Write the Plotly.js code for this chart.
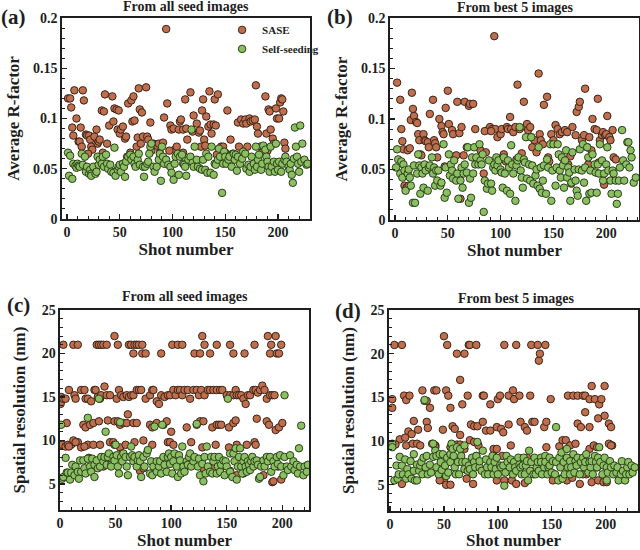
<!DOCTYPE html>
<html><head><meta charset="utf-8">
<script src="https://cdn.plot.ly/plotly-3.0.1.min.js"></script>
<style>html,body{margin:0;padding:0;background:#fff}#chart{width:640px;height:550px}</style>
</head><body><div id="chart"></div>
<script>
// ---- Panel (a): average R-factor, all seed images ----
const aSaseX = [1,3,4,7,5,6,9,11,12,13,15,16,14,18,19,21,22,23,24,26,28,29,30,31,33,35,36,38,40,43,44,45,47,48,49,50,51,53,55,56,57,58,61,63,62,64,66,67,68,69,71,70,72,75,76,77,79,82,85,87,91,92,94,95,98,99,101,102,104,106,107,108,110,112,113,117,114,119,120,123,125,126,127,128,129,130,131,132,134,135,136,137,139,140,141,143,146,147,148,152,155,158,162,163,165,167,169,170,171,173,174,176,178,179,180,181,183,188,189,191,192,193,195,196,198,199,201,202,203,204,205,206,207,20,34,60,80,88,97,110,142,150,157,160,185,190];
const aSaseY = [.120,.120,.111,.128,.091,.083,.100,.077,.077,.091,.128,.118,.072,.084,.083,.083,.079,.072,.069,.082,.089,.075,.077,.079,.108,.107,.124,.075,.093,.122,.097,.110,.109,.089,.108,.085,.089,.092,.080,.082,.062,.115,.118,.122,.097,.098,.072,.081,.130,.109,.106,.075,.082,.131,.082,.079,.096,.075,.073,.075,.076,.101,.189,.115,.093,.089,.090,.069,.072,.089,.097,.099,.089,.119,.090,.126,.079,.087,.103,.095,.086,.088,.072,.108,.119,.079,.073,.102,.092,.127,.094,.085,.094,.119,.093,.124,.072,.062,.072,.108,.079,.062,.096,.072,.099,.095,.099,.095,.072,.100,.097,.098,.099,.133,.092,.085,.072,.122,.085,.109,.107,.089,.080,.075,.110,.100,.100,.116,.120,.119,.107,.076,.070,.065,.066,.066,.068,.066,.068,.066,.064,.066,.065,.063,.066,.068];
const aSeedX = [1,3,2,5,6,8,9,10,11,12,14,15,17,18,19,21,22,23,23,25,27,28,29,30,31,33,34,35,37,38,39,41,42,44,45,46,48,49,50,51,53,54,55,56,58,60,61,63,64,65,67,68,69,72,73,74,76,77,78,79,80,82,83,85,87,88,90,91,92,89,94,96,98,99,101,102,103,105,106,107,109,110,111,112,113,115,117,118,119,120,121,123,124,126,128,129,131,132,133,134,136,137,139,140,141,143,144,145,147,148,149,150,151,153,154,156,158,159,160,161,162,164,166,167,169,170,172,173,174,175,177,178,179,180,181,182,184,185,186,188,189,190,191,192,193,194,196,197,198,199,200,201,203,204,206,207,208,210,211,212,213,214,215,216,217,218,219,220,221,222,223,225,227,228];
const aSeedY = [.066,.063,.043,.040,.055,.053,.051,.055,.053,.052,.065,.054,.062,.047,.052,.045,.049,.045,.043,.052,.045,.047,.062,.054,.059,.055,.062,.052,.064,.055,.050,.054,.047,.046,.071,.043,.049,.052,.054,.047,.055,.052,.042,.057,.062,.064,.059,.062,.055,.052,.059,.065,.054,.052,.042,.052,.055,.057,.065,.072,.075,.052,.047,.052,.059,.065,.072,.062,.055,.038,.059,.054,.052,.046,.039,.055,.062,.065,.044,.062,.064,.055,.054,.052,.043,.059,.062,.089,.056,.052,.072,.059,.052,.050,.049,.059,.049,.065,.046,.062,.046,.072,.044,.055,.054,.059,.070,.062,.026,.055,.067,.062,.055,.059,.062,.052,.065,.059,.064,.048,.062,.055,.060,.067,.065,.050,.054,.047,.052,.062,.055,.049,.072,.052,.059,.064,.049,.055,.073,.069,.062,.057,.052,.047,.072,.052,.057,.047,.075,.055,.049,.057,.047,.055,.059,.062,.057,.052,.049,.055,.044,.036,.060,.091,.072,.062,.055,.047,.093,.057,.075,.059,.054,.055];

// ---- Panel (b): average R-factor, best 5 images ----
const bSaseX = [2,5,6,7,8,12,14,15,16,17,18,20,21,22,23,24,25,27,28,29,31,32,33,36,37,38,39,40,42,44,45,46,47,48,50,51,54,55,57,58,59,61,63,65,66,68,70,71,74,76,79,81,84,86,88,90,92,94,95,97,100,101,102,103,106,107,109,110,112,114,116,118,120,122,124,125,126,128,129,130,132,134,136,137,138,140,141,144,145,148,150,152,154,156,158,161,163,166,168,171,172,174,175,177,179,180,182,184,186,187,189,191,192,194,196,197,199,200,201,203,204,206,207,209,9,11,13,62,98,105,115,146,160,164,183,193,198,167,85,91];
const bSaseY = [.136,.119,.090,.078,.070,.069,.071,.099,.126,.110,.103,.097,.096,.085,.079,.065,.064,.085,.079,.078,.077,.072,.105,.119,.079,.076,.072,.062,.100,.093,.087,.085,.053,.111,.128,.095,.089,.085,.063,.064,.117,.086,.092,.064,.117,.072,.113,.115,.115,.090,.072,.069,.046,.067,.089,.092,.090,.182,.090,.082,.085,.090,.062,.065,.092,.090,.102,.090,.087,.092,.134,.090,.066,.117,.092,.095,.089,.092,.082,.072,.079,.067,.145,.085,.079,.075,.114,.122,.062,.085,.079,.094,.090,.085,.087,.089,.087,.063,.092,.084,.107,.112,.117,.079,.084,.130,.072,.082,.069,.100,.090,.089,.120,.079,.084,.087,.084,.085,.103,.082,.079,.089,.062,.060,.034,.032,.034,.021,.060,.058,.060,.058,.060,.055,.055,.057,.035,.036,.088,.088];
const bSeedX = [1,2,3,5,6,7,8,9,10,12,13,14,15,17,19,18,21,22,23,24,25,26,27,28,29,31,32,33,35,36,37,38,39,40,41,43,44,46,47,48,49,51,52,53,54,55,56,58,59,60,62,63,64,65,66,68,69,70,71,72,73,74,75,76,77,79,80,81,82,83,84,85,87,88,89,91,92,93,94,95,96,97,98,100,101,102,103,104,106,107,108,109,110,111,112,114,115,116,117,118,119,120,121,122,123,124,125,127,128,129,130,131,133,134,135,136,137,138,139,140,141,143,144,145,147,148,149,150,152,153,154,155,156,157,158,159,160,161,162,163,164,165,166,167,168,170,171,172,173,174,175,177,178,179,180,181,182,183,184,185,186,187,189,190,191,192,193,194,196,197,198,200,201,202,204,205,206,207,209,210,211,212,213,215,216,217,219,220,221,222,223,224,226,228];
const bSeedY = [.052,.070,.060,.046,.058,.042,.055,.049,.029,.046,.050,.042,.034,.017,.017,.054,.046,.065,.054,.026,.052,.046,.032,.055,.049,.029,.052,.054,.062,.046,.052,.034,.049,.039,.049,.034,.037,.075,.022,.052,.027,.065,.044,.055,.049,.041,.059,.039,.046,.021,.039,.052,.032,.046,.055,.047,.072,.017,.041,.022,.062,.046,.072,.055,.062,.055,.075,.059,.055,.065,.008,.039,.031,.036,.059,.036,.029,.052,.055,.049,.062,.054,.059,.050,.047,.032,.062,.046,.029,.059,.052,.026,.074,.055,.046,.019,.054,.059,.062,.092,.049,.042,.032,.060,.057,.082,.041,.055,.039,.082,.054,.036,.044,.050,.034,.072,.031,.052,.027,.039,.054,.026,.060,.052,.075,.019,.049,.075,.034,.052,.075,.065,.049,.042,.062,.054,.032,.059,.069,.042,.052,.047,.019,.037,.067,.050,.039,.029,.024,.050,.070,.049,.075,.037,.052,.019,.072,.062,.026,.049,.027,.065,.055,.047,.027,.055,.046,.075,.059,.039,.046,.055,.072,.049,.039,.026,.049,.046,.039,.016,.026,.039,.052,.089,.059,.039,.055,.077,.077,.052,.069,.062,.037,.042];

// ---- Panel (c): spatial resolution (nm), all seed images ----
const cSaseX = [3,12,16,33,35,37,39,42,49,52,62,64,66,67,69,71,74,74,77,91,101,106,110,121,126,128,130,135,141,153,156,166,175,187,189,190,194,195,197,199,
1,1,0.5,3,5,8,13,14,19,22,23,25,28,31,32,34,36,37,40,42,45,51,53,55,57,60,62,64,66,69,71,73,77,81,83,84,87,89,91,94,97,99,102,104,106,108,110,112,115,117,120,123,125,127,130,133,135,138,141,144,146,150,153,156,158,159,161,163,165,167,169,171,174,176,178,180,182,184,186,189,191,193,
6,21,23,27,30,35,43,49,52,54,57,60,61,66,69,81,83,87,93,96,100,114,123,126,129,137,141,143,145,152,156,158,177,186,188,194,197,200,
1,2,5,10,13,16,19,25,30,36,45,48,49,54,56,59,67,75,83,97,99,102,118,128,140,152,159,168,175,176,7,12,14,22,8,
26,39,40,72,75,108,112,129,138,146,153,159,165,168,174,183,191,196,199,192];
const cSaseY = [21,21,21,21,21,21,21,21,22,21,21,21,20,21,21,21,21,20,20,20,21,21,21,20,20,22,21,20,21,21,20,20,21,22,20,21,22,20,20,21,
15,14.5,14.2,14.8,14.8,15.8,15.2,14.8,15.8,15.8,14.8,14.8,14.5,15.8,15.8,15,14.8,15.2,16.2,15.2,15.2,14.8,15.8,15.2,15,15.2,15,15.2,15.2,15.8,15.8,15.8,14.8,15.2,15.8,15.8,14.5,14.2,15.2,15,15.2,15.2,15.8,15.2,15.8,15.8,15.2,15.8,15.8,14.8,15.8,15.8,15.2,15.8,15.2,15.8,15.8,15.8,15.8,15.8,15.8,15.2,15.2,15.2,15.8,15.2,15.2,15.2,14.8,14.2,15.2,15.2,15.8,15.8,15.5,15.8,16.3,15.8,14.8,15.2,15.2,15.2,
12,11.8,11.5,11.8,12,12.2,12.3,12.2,12.2,11.8,12,12,13,12,12,11.8,11.5,12,11.8,12.2,11,11.5,11.8,12.2,12.2,11.5,11.8,11.8,11.8,11.5,12,12.3,12.5,12.2,11.8,11.2,11.5,12,
9.5,9.5,9.3,9.5,9.8,9.8,9.2,9.5,9.5,9.5,9.8,9.8,9.5,9.2,8.5,9.5,9.8,10,9.5,9.8,9.8,9.5,9.8,9.2,9.5,9.2,9.5,9.5,9.8,9.5,9.5,10,9.8,9.3,9.3,
8,7,7.5,6.5,6.8,7.5,6.8,6.8,6.8,7,6.5,6,6.2,7.5,7.2,6,5.2,7,5.5,5.3];
const cSeedX = [1,2,3,5,6,7,9,10,11,13,14,16,17,18,19,21,22,23,25,25,27,28,29,31,31,33,34,35,36,37,39,40,41,42,43,44,46,46,48,49,50,51,52,53,54,55,56,57,59,60,61,63,64,65,66,67,69,70,71,72,73,75,76,78,79,81,82,83,84,85,87,87,89,90,91,92,93,94,96,97,98,99,100,101,102,103,105,106,107,108,109,110,111,112,114,115,116,117,118,120,121,123,124,125,126,128,129,130,131,132,133,135,136,137,138,139,141,142,143,144,145,147,148,149,150,151,153,153,155,156,157,158,159,160,161,162,163,164,165,166,167,168,169,170,171,172,173,174,175,177,178,179,180,181,183,184,186,187,189,190,192,193,195,196,198,199,201,202,202,204,205,207,208,210,211,213,214,215,216,217,219,220,222,223];
const cSeedY = [11.8,5.6,5.8,8,6.3,6.3,5.5,6.3,7.2,6,7,6.4,5.6,7.7,6.4,7.7,6.8,6.2,7.9,12.6,7,6.4,7.9,5.8,7.2,7.7,6.8,14.8,7,8.1,7.6,8.1,11,7.2,8.1,8.5,7.2,7,8.1,7.7,9.5,8.3,7,6.2,12.1,8.1,7.6,8.5,8.1,7,6,8.1,9.3,8.3,7.6,8.1,7,7.7,8.3,7.6,5.8,8.1,7,8.5,8.9,6.2,7.6,6,7,11.6,6.4,7.6,7,7.6,6.2,11.8,8.1,7.2,6.4,8.1,8.5,7.3,8.1,6.2,7.6,8.5,7,5.8,8.3,7.7,6.2,9.3,7,6.4,7.6,7.2,8.1,8.5,7,7.6,8.1,11.9,7,7.9,6,7.3,5.3,8.1,6.2,9.3,7,6.4,8.1,6.2,7.6,8.1,6.2,7,8.1,6.4,7.2,7.7,6,7.6,7,14.8,8.5,6.4,5.8,8.5,7.6,9.1,5.5,7,8.1,9.1,7,6.2,7.6,8.1,7,6.4,7.6,7.2,6.6,7.6,8.1,7,7.6,7.7,7.2,5.6,5.8,7,7.7,7,8.1,7.6,8.1,6.4,7.6,7,8.1,7.3,8.3,7,6,8.1,15.2,7,6.6,8.3,7,7.6,6.6,7.2,6.2,9.1,7,11.7,6,7,6.4,7.2];

// ---- Panel (d): spatial resolution (nm), best 5 images ----
const dSaseX = [4,11,50,53,62,69,73,74,80,106,117,131,137,138,139,144,
2,2,13,15,18,30,32,34,37,41,43,52,54,56,65,67,72,86,87,93,100,102,110,114,115,120,130,149,165,170,174,179,181,185,187,190,194,196,199,
9,17,20,22,26,34,35,42,49,58,60,65,75,78,81,86,89,93,99,103,105,110,121,125,127,132,134,143,145,174,177,181,185,193,199,203,205,203,206,
2,5,15,14,21,25,28,39,42,56,58,62,65,69,74,78,82,96,99,104,112,145,157,160,163,167,172,185,189,192,205,
11,50,52,56,46,71,77,99,106,113,117,125,151,158,164,176,182,187,193,198,201,169,179,
28,62,80,96,127,151,171,179,192,204];
const dSaseY = [21,21,22,21,20,20,21,21,21,21,21,21,21,19.2,20,21,
14.8,13.8,15.2,14.7,15.2,15.8,14.6,14.6,13.8,15.8,15.8,15.8,15.2,13.8,17,14.2,15.2,15.2,15.2,14.2,14.8,15.2,15.2,15.8,14.8,15.2,15.2,14.8,15.2,15.2,15.2,15.2,15.2,14.8,16.3,14.8,14.2,14.8,16.3,
10.2,11.1,10.8,12.3,11.3,12.2,11.5,9.5,11.3,11.7,11.4,10.7,11.9,11.7,11.7,12.2,11.2,11.2,11.6,11.4,11,11.9,12.2,11.6,11.2,12.2,12.2,11.6,12.2,12,11.6,13.3,11.6,12.6,12.9,12,11.6,9.7,9.5,
9.5,9.6,9.5,10.4,9.7,9.7,9.5,9.7,9.3,9.3,9.6,9.6,9.6,9.1,10.1,9.9,9.5,9.1,9.1,8.3,9.5,9.3,9.4,10.1,10.1,9.5,9.7,9.1,9.5,9.3,9.5,
5.1,5.5,5,5,5.5,5.7,5.1,5.5,5.5,5.5,5.1,5.2,5.5,5.7,5.5,5.1,6.2,5.3,5.5,5.3,5.3,5.8,6.2,
7,7.7,8.3,8.3,8.1,7.7,8.1,7.9,7,7.2];
const dSeedX = [2,2,4,6,7,8,9,11,12,14,15,16,17,19,20,22,22,23,25,25,27,28,29,30,31,32,33,34,35,37,38,40,40,42,43,43,45,46,47,48,49,51,52,53,54,56,56,57,58,59,60,61,62,63,64,65,66,67,69,69,70,72,73,74,76,77,78,79,80,81,83,83,85,86,88,89,90,91,93,94,95,96,97,98,99,100,102,103,105,106,107,108,109,111,112,114,115,116,117,119,120,121,122,123,124,125,126,127,128,129,130,131,133,134,135,136,137,138,140,140,141,143,144,144,146,147,148,148,150,151,153,154,154,156,157,158,159,160,161,162,164,164,165,167,167,168,170,171,172,173,174,176,177,179,180,181,182,184,185,186,187,188,190,191,192,193,194,195,197,198,199,201,201,202,204,205,207,208,210,211,212,214,215,216,218,219,220,221,222,224,225,227];
const dSeedY = [9.7,9.3,5.5,7.2,5.7,6.2,8.2,7.2,6.2,7.9,5.7,6.8,6.2,7.7,5.7,8.5,6.6,5.5,7.3,5.5,6.6,7.2,7.6,6.2,8.1,14.7,7,8.3,6.2,7.3,6.4,9.7,8.2,8.9,7,8.3,6.2,8.5,7.6,6.7,8.5,7.2,6,8.1,6.4,8.5,7.6,9.7,9.1,8.3,7,6.2,9.3,7.6,6.2,9.1,8.3,7.6,6.8,9.5,7.6,6.6,7.2,6.8,8.1,6.2,7.6,7,8.3,9.9,7,7.7,6.6,8.9,6.2,7.9,7,6.2,7.6,7,8.3,6.2,7.6,6.8,8.1,6.2,7.2,7,7.2,4.9,6.4,8.3,7.6,7,7.9,6.2,7.6,7,6.6,8.1,7.3,7,6.2,7.2,8.1,6.2,7.2,7.7,5.5,8.9,6.6,7.6,6.2,8.1,6.2,7,7.6,6.6,8.1,7.6,6.2,7,8.3,7.6,6.2,7,8.1,7.2,6.4,7.7,6.2,11.6,7.6,5.5,8.1,7,8.7,5.7,7.6,6.2,9.1,8.1,7,7.7,6.2,7,8.5,6.4,7.7,7.2,8.1,6.2,7.6,8.1,7,7.6,8.5,6.4,7.6,7,7.7,6.2,8.3,7.6,7,8.1,9.3,7.6,6.2,7.2,8.1,7,5.5,6.4,7.7,7,6.2,7.2,6.4,7,5.5,6.2,7.7,6.6,5.5,6.2,7,7.6,6.2,7.2,6.4,7];

const seriesNames = ['SASE', 'Self-seeding'];
const panelTitles = ['From all seed images', 'From best 5 images', 'From all seed images', 'From best 5 images'];
const panelLabels = ['(a)', '(b)', '(c)', '(d)'];

const F = 'Liberation Serif';
const INK = '#1e1e1e';
const saseMarker = {size: 7.5, color: '#bf6f4e', line: {color: '#3b2418', width: 1}};
const seedMarker = {size: 7.5, color: '#8cbf62', line: {color: '#2b4019', width: 1}};

function pair(xs, ys, name, mk, xa, ya, legend) {
  return {type: 'scatter', mode: 'markers', x: xs, y: ys, name: name, marker: mk,
          xaxis: xa, yaxis: ya, showlegend: legend, hoverinfo: 'x+y'};
}
const data = [
  pair(aSaseX, aSaseY, seriesNames[0], saseMarker, 'x', 'y', true),
  pair(aSeedX, aSeedY, seriesNames[1], seedMarker, 'x', 'y', true),
  pair(bSaseX, bSaseY, seriesNames[0], saseMarker, 'x2', 'y2', false),
  pair(bSeedX, bSeedY, seriesNames[1], seedMarker, 'x2', 'y2', false),
  pair(cSaseX, cSaseY, seriesNames[0], saseMarker, 'x3', 'y3', false),
  pair(cSeedX, cSeedY, seriesNames[1], seedMarker, 'x3', 'y3', false),
  pair(dSaseX, dSaseY, seriesNames[0], saseMarker, 'x4', 'y4', false),
  pair(dSeedX, dSeedY, seriesNames[1], seedMarker, 'x4', 'y4', false)
];

function minorTicks(d) {
  return {ticks: 'inside', ticklen: 3, tickwidth: 1, tickcolor: INK, dtick: d, showgrid: false};
}
function ax(extra) {
  return Object.assign({
    showline: true, mirror: true, linecolor: INK, linewidth: 1.6,
    ticks: 'inside', ticklen: 5, tickwidth: 1.4, tickcolor: INK,
    showgrid: false, zeroline: false,
    tickfont: {family: F, size: 14, weight: 'bold', color: INK}
  }, extra);
}
const xTitleTop = {text: 'Shot number', font: {family: F, size: 17, weight: 'bold', color: INK}, standoff: 3};
const xTitleBot = {text: 'Shot number', font: {family: F, size: 17, weight: 'bold', color: INK}, standoff: 5};
const rTitle = {text: 'Average R-factor', font: {family: F, size: 17, weight: 'bold', color: INK}, standoff: 9};
const sTitle = {text: 'Spatial resolution (nm)', font: {family: F, size: 17, weight: 'bold', color: INK}, standoff: 11};

const layout = {
  width: 640, height: 550,
  margin: {l: 0, r: 0, t: 0, b: 0},
  paper_bgcolor: '#ffffff', plot_bgcolor: '#ffffff',
  showlegend: true,
  legend: {x: 0.347, y: 0.972, xanchor: 'left', yanchor: 'top', bgcolor: 'rgba(0,0,0,0)',
           font: {family: F, size: 11, weight: 'bold', color: INK}, tracegroupgap: 0, itemwidth: 30},
  xaxis:  ax({domain: [0.0969, 0.4844], range: [-4.7, 230.3], dtick: 50, tick0: 0, minor: minorTicks(10), anchor: 'y', title: xTitleTop}),
  yaxis:  ax({domain: [0.6018, 0.9673], range: [0, 0.2], dtick: 0.05, minor: minorTicks(0.01), anchor: 'x', title: rTitle}),
  xaxis2: ax({domain: [0.6094, 0.9984], range: [-4.7, 231], dtick: 50, tick0: 0, minor: minorTicks(10), anchor: 'y2', title: xTitleTop}),
  yaxis2: ax({domain: [0.6000, 0.9673], range: [0, 0.2], dtick: 0.05, minor: minorTicks(0.01), anchor: 'x2', title: rTitle}),
  xaxis3: ax({domain: [0.0938, 0.4828], range: [0, 224], dtick: 50, tick0: 0, minor: minorTicks(10), anchor: 'y3', title: xTitleBot}),
  yaxis3: ax({domain: [0.0727, 0.4364], range: [2, 25], dtick: 5, tick0: 0, minor: minorTicks(1), anchor: 'x3', title: sTitle}),
  xaxis4: ax({domain: [0.6078, 0.9969], range: [-1, 230], dtick: 50, tick0: 0, minor: minorTicks(10), anchor: 'y4', title: xTitleBot}),
  yaxis4: ax({domain: [0.0709, 0.4364], range: [2, 25], dtick: 5, tick0: 0, minor: minorTicks(1), anchor: 'x4', title: sTitle}),
  annotations: []
};

const titlePos = [[186, 7], [515, 8], [185, 296], [516, 298]];
const labelPos = [[13, 17], [340, 17], [18, 305], [348, 311]];
for (let i = 0; i < 4; i++) {
  layout.annotations.push({text: panelTitles[i], xref: 'paper', yref: 'paper',
    x: titlePos[i][0] / 640, y: 1 - titlePos[i][1] / 550, xanchor: 'center', yanchor: 'middle',
    showarrow: false, font: {family: F, size: 14, weight: 'bold', color: INK}});
  layout.annotations.push({text: panelLabels[i], xref: 'paper', yref: 'paper',
    x: labelPos[i][0] / 640, y: 1 - labelPos[i][1] / 550, xanchor: 'center', yanchor: 'middle',
    showarrow: false, font: {family: F, size: 21, weight: 'bold', color: INK}});
}

Plotly.newPlot('chart', data, layout, {displayModeBar: false, staticPlot: true});
</script>
</body></html>
